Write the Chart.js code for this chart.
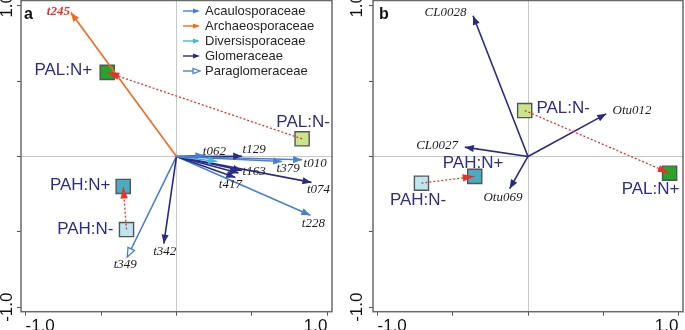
<!DOCTYPE html>
<html>
<head>
<meta charset="utf-8">
<script src="https://cdn.jsdelivr.net/npm/chart.js@4.4.0/dist/chart.umd.min.js"></script>
<style>
  html, body { margin: 0; padding: 0; background: #fff; }
  #wrap { position: relative; width: 685px; height: 330px; overflow: hidden; }
  canvas { position: absolute; top: 0; }
  #chartA { left: 0; }
  #chartB { left: 345px; }
</style>
</head>
<body>
<div id="wrap">
  <canvas id="chartA" width="345" height="330"></canvas>
  <canvas id="chartB" width="340" height="330"></canvas>
</div>
<script>
// axis ticks
const axisTicks = [-1, -0.5, 0, 0.5, 1];
const axisTickLabels = ["-1.0", "", "", "", "1.0"];

// AMF families (legend)
const families = ["Acaulosporaceae", "Archaeosporaceae", "Diversisporaceae", "Glomeraceae", "Paraglomeraceae"];

// panel a: taxa vectors
const taxaA = ["t245", "t010", "t379", "t129", "t062", "", "t163", "", "t417", "t074", "t228", "t342", "t349"];
const taxaAx = [-0.70, 0.832, 0.70, 0.435, 0.185, 0.27, 0.435, 0.41, 0.39, 0.894, 0.887, -0.084, -0.326];
const taxaAy = [0.955, -0.022, -0.033, 0.002, 0.007, -0.033, -0.093, -0.11, -0.139, -0.172, -0.39, -0.578, -0.667];
const taxaAFamily = [1, 0, 0, 3, 0, 2, 3, 3, 3, 3, 0, 3, 4];

// panel b: taxa vectors
const taxaB = ["CL0028", "Otu012", "CL0027", "Otu069"];
const taxaBx = [-0.365, 0.52, -0.42, -0.122];
const taxaBy = [0.934, 0.283, 0.062, -0.214];
const taxaBFamily = [3, 3, 3, 3];

// samples (site scores)
const samples = ["PAL:N+", "PAL:N-", "PAH:N+", "PAH:N-"];
const samplesAx = [-0.459, 0.832, -0.353, -0.331];
const samplesAy = [0.558, 0.117, -0.199, -0.485];
const samplesBx = [0.941, -0.022, -0.354, -0.708];
const samplesBy = [-0.111, 0.305, -0.132, -0.177];
// shifts N- -> N+ (sample indices)
const shifts = [[1, 0], [3, 2]];

// ---- styling ----
const SANS = "'Liberation Sans', Arial, sans-serif";
const SERIF = "'Liberation Serif', 'Times New Roman', serif";
const familyColors = ["#4a80d2", "#f26a22", "#45b9d8", "#2b2b86", "#4a80d2"];
const sampleColors = ["#27a52b", "#c9e68c", "#4aabc5", "#bfe5f1"];
const navy = "#2e2e88";

const taxaAOffsets = [[-12.5, -1], [13, 4], [6, 7], [12, -7], [10, -4], [0, 0], [12, 1], [0, 0], [-5, 7], [7, 7], [3, 8], [1, 8], [-2, 8]];
const taxaBOffsets = [["right", -6.6, -3.3], ["left", 6.3, -3.3], ["right", -6.7, -1.7], ["center", -6.7, 8.4]];
const samplesAOffsets = [["right", -15, -1.7], ["center", 1, -17], ["right", -12.7, -1], ["right", -13, 0]];
const samplesBOffsets = [["center", -19, 16.6], ["left", 11.7, -2.7], ["center", -1.7, -13.3], ["center", -3.4, 17.3]];

function drawHead(ctx, p0, p1, head) {
  const ang = Math.atan2(p1.y - p0.y, p1.x - p0.x);
  const c = Math.cos(ang), s = Math.sin(ang);
  const L = head.len, W = head.half;
  ctx.beginPath();
  ctx.moveTo(p1.x, p1.y);
  ctx.lineTo(p1.x - L * c + W * s, p1.y - L * s - W * c);
  ctx.lineTo(p1.x - L * c - W * s, p1.y - L * s + W * c);
  ctx.closePath();
  if (head.open) {
    ctx.fillStyle = "#fff";
    ctx.fill();
    ctx.lineWidth = 1.3;
    ctx.strokeStyle = head.color;
    ctx.stroke();
  } else {
    ctx.fillStyle = head.color;
    ctx.fill();
  }
}

const biplotPlugin = {
  id: "biplot",
  beforeDatasetsDraw(chart) {
    const { ctx, chartArea: a } = chart;
    ctx.save();
    ctx.strokeStyle = "#6a6a6a";
    ctx.lineWidth = 1.5;
    ctx.strokeRect(a.left, a.top, a.right - a.left, a.bottom - a.top);
    ctx.restore();
  },
  afterDatasetsDraw(chart, args, opts) {
    const ctx = chart.ctx;
    ctx.save();
    chart.data.datasets.forEach((ds, i) => {
      if (!ds.head) return;
      const meta = chart.getDatasetMeta(i);
      drawHead(ctx, meta.data[0], meta.data[1], ds.head);
    });
    chart.data.datasets.forEach((ds, i) => {
      if (!ds.tags) return;
      const meta = chart.getDatasetMeta(i);
      ds.tags.forEach(t => {
        if (!t.text) return;
        const p = meta.data[t.at];
        ctx.font = t.font;
        ctx.fillStyle = t.color;
        ctx.textAlign = t.align || "center";
        ctx.textBaseline = "middle";
        ctx.fillText(t.text, p.x + t.dx, p.y + t.dy);
      });
    });

    // rotated y tick labels
    const ys = chart.scales.y;
    ctx.font = "17px " + SANS;
    ctx.fillStyle = "#111";
    ctx.textAlign = "center";
    ctx.textBaseline = "middle";
    axisTicks.forEach((v, k) => {
      if (!axisTickLabels[k]) return;
      ctx.save();
      ctx.translate(opts.yLabelX, ys.getPixelForValue(v));
      ctx.rotate(-Math.PI / 2);
      ctx.fillText(axisTickLabels[k], 0, 0);
      ctx.restore();
    });

    // panel letter
    ctx.font = "bold 16px " + SANS;
    ctx.fillStyle = "#111";
    ctx.textAlign = "left";
    ctx.fillText(opts.letter, opts.letterX, 15);

    // legend
    if (opts.legend) {
      families.forEach((f, k) => {
        const y = 11 + k * 15;
        const x0 = 183, x1 = 200;
        ctx.beginPath();
        ctx.moveTo(x0, y);
        ctx.lineTo(x1 - 2, y);
        ctx.strokeStyle = familyColors[k];
        ctx.lineWidth = 1.4;
        ctx.stroke();
        drawHead(ctx, { x: x0, y: y }, { x: x1, y: y }, { len: 7, half: 2.6, color: familyColors[k], open: k === 4 });
        ctx.font = "13px " + SANS;
        ctx.fillStyle = "#262626";
        ctx.textAlign = "left";
        ctx.textBaseline = "middle";
        ctx.fillText(f, 205, y + 0.5);
      });
    }
    ctx.restore();
  }
};

function buildDatasets(names, xs, ys, fams, offs, isA, sx, sy, sOffs) {
  const ds = [];
  names.forEach((n, i) => {
    const col = familyColors[fams[i]];
    let tag;
    if (isA) {
      const red = n === "t245";
      tag = { at: 1, text: n, dx: offs[i][0], dy: offs[i][1], align: "center",
        font: (red ? "italic bold 13px " : "italic 13px ") + SERIF, color: red ? "#e8322e" : "#1e1e1e" };
    } else {
      tag = { at: 1, text: n, align: offs[i][0], dx: offs[i][1], dy: offs[i][2],
        font: "italic 13px " + SERIF, color: "#1e1e1e" };
    }
    ds.push({
      data: [{ x: 0, y: 0 }, { x: xs[i], y: ys[i] }],
      showLine: true,
      borderColor: col,
      borderWidth: 1.6,
      pointRadius: 0,
      order: 2,
      head: { len: 9, half: 3.6, color: col, open: fams[i] === 4 },
      tags: [tag]
    });
  });
  ds.push({
    data: samples.map((s, i) => ({ x: sx[i], y: sy[i] })),
    pointStyle: "rect",
    pointRadius: 10,
    pointBackgroundColor: sampleColors,
    pointBorderColor: "#555",
    pointBorderWidth: 1.4,
    showLine: false,
    order: 5,
    tags: samples.map((s, i) => ({ at: i, text: s, align: sOffs[i][0], dx: sOffs[i][1], dy: sOffs[i][2],
      font: "17px " + SANS, color: navy }))
  });
  shifts.forEach(([from, to]) => {
    ds.push({
      data: [{ x: sx[from], y: sy[from] }, { x: sx[to], y: sy[to] }],
      showLine: true,
      borderColor: "#e8322a",
      borderWidth: 1.3,
      borderDash: [2, 2],
      pointRadius: 0,
      order: 1,
      head: { len: 12, half: 3.6, color: "#e8322a", open: false }
    });
  });
  return ds;
}

function axisOpts(isX, min, max) {
  const o = {
    type: "linear",
    min: min,
    max: max,
    afterBuildTicks: s => { s.ticks = axisTicks.map(v => ({ value: v })); },
    grid: {
      color: c => (c.tick && c.tick.value === 0 ? "#c8c8c8" : "rgba(0,0,0,0)"),
      tickColor: "#555",
      tickLength: 4,
      lineWidth: 1
    },
    border: { display: false }
  };
  if (isX) {
    o.ticks = {
      callback: (v, i) => axisTickLabels[i],
      font: { family: SANS, size: 17 },
      color: "#111",
      padding: 0,
      align: "inner",
      maxRotation: 0,
      autoSkip: false
    };
    o.afterFit = s => { s.height = 18.3; };
  } else {
    o.ticks = { display: false };
  }
  return o;
}

function makeChart(id, datasets, padding, pluginOpts) {
  return new Chart(document.getElementById(id), {
    type: "scatter",
    data: { datasets: datasets },
    options: {
      responsive: false,
      animation: false,
      devicePixelRatio: 1,
      layout: { padding: padding, autoPadding: false },
      scales: {
        x: axisOpts(true, -1.03, 1.03),
        y: axisOpts(false, -1.03, 1.035)
      },
      plugins: {
        legend: { display: false },
        tooltip: { enabled: false },
        biplot: pluginOpts
      }
    },
    plugins: [biplotPlugin]
  });
}

makeChart("chartA",
  buildDatasets(taxaA, taxaAx, taxaAy, taxaAFamily, taxaAOffsets, true, samplesAx, samplesAy, samplesAOffsets),
  { left: 17, right: 13, top: 0.5, bottom: 0 },
  { letter: "a", letterX: 24, yLabelX: 7, legend: true });

makeChart("chartB",
  buildDatasets(taxaB, taxaBx, taxaBy, taxaBFamily, taxaBOffsets, false, samplesBx, samplesBy, samplesBOffsets),
  { left: 24, right: 2, top: 0.5, bottom: 0 },
  { letter: "b", letterX: 34, yLabelX: 12.5, legend: false });
</script>
</body>
</html>
